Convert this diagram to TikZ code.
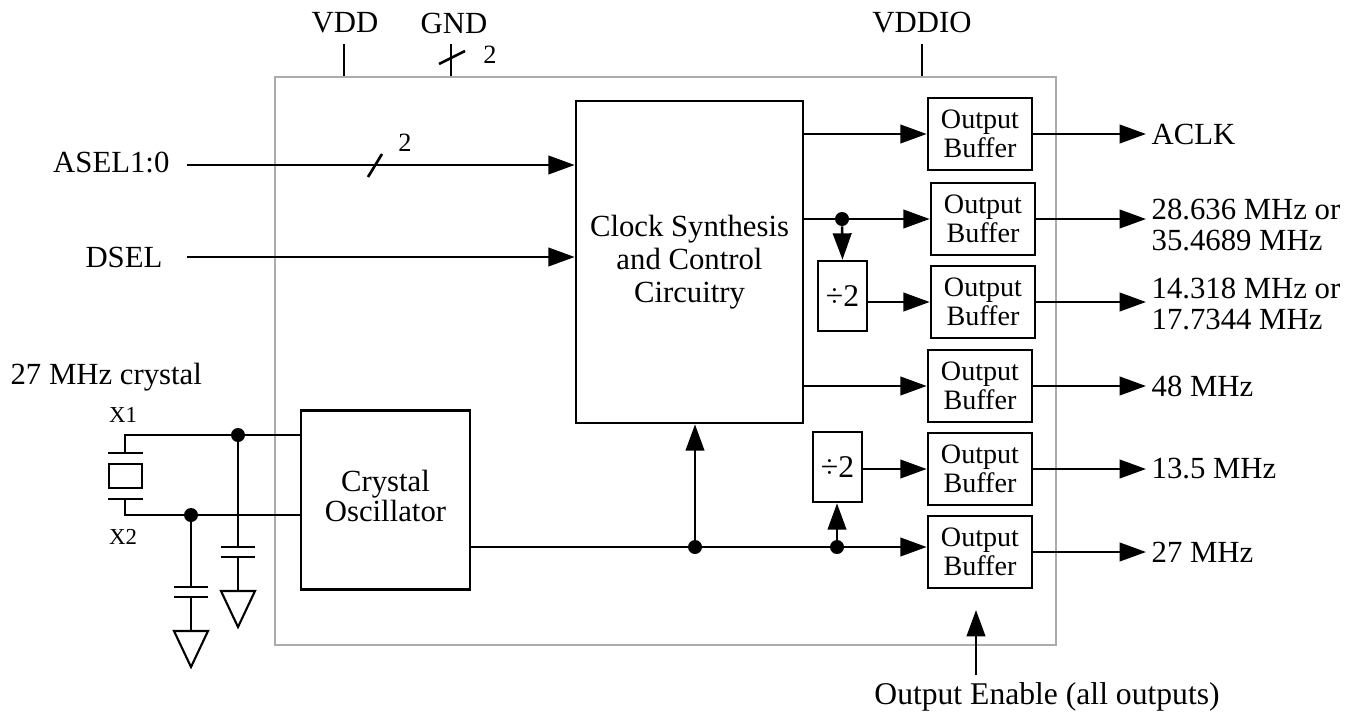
\documentclass[tikz,border=0pt]{standalone}
\usepackage{fontspec}
\setmainfont{Liberation Serif}
\usetikzlibrary{arrows.meta}

\begin{document}
\begin{tikzpicture}[x=0.02cm,y=-0.02cm,
  blk/.style={draw,line width=1.5pt,inner sep=0pt,align=center},
  buf/.style={blk,minimum width=2.08cm,minimum height=1.44cm,font=\fontsize{16}{16.5}\selectfont},
  half/.style={blk,minimum width=0.98cm,minimum height=1.4cm,font=\fontsize{18}{18}\selectfont},
  sig/.style={line width=1.5pt,-{Triangle[length=15pt,width=10.5pt]}},
  wire/.style={line width=1.5pt},
  dot/.style={circle,fill,inner sep=0pt,minimum size=0.28cm},
  lbl/.style={inner sep=3pt,align=left,font=\fontsize{17.5}{17.5}\selectfont}]
\useasboundingbox (0,0) rectangle (1369,717);
%\draw[step=50,gray,very thin] (0,0) grid (1369,717); %background grid

\node[draw=gray!65,line width=1.1pt,minimum width=15.62cm,minimum height=11.36cm,inner sep=0pt] (chip) at (665.5,361) {};

\node[blk,minimum width=4.54cm,minimum height=6.44cm,font=\fontsize{17.5}{18.7}\selectfont] (clk) at (689.5,262) {Clock Synthesis\\and Control\\Circuitry};
\node[blk,minimum width=3.38cm,minimum height=3.58cm,font=\fontsize{17.5}{17}\selectfont] (osc) at (385.5,500) {Crystal\\Oscillator\\[-12pt]};

\node[buf] (b1) at (980,134) {Output\\Buffer}; %1
\node[buf] (b2) at (983,219) {Output\\Buffer}; %2
\node[buf] (b3) at (983,302) {Output\\Buffer}; %3
\node[buf] (b4) at (980,386) {Output\\Buffer}; %4
\node[buf] (b5) at (980,469) {Output\\Buffer}; %5
\node[buf] (b6) at (980,552) {Output\\Buffer}; %6

\node[half] (d1) at (842.5,296) {÷2};
\node[half] (d2) at (837.5,467) {÷2};

\node[dot] (j3) at (842,219) {};
\node[dot] (j4) at (695,547) {};
\node[dot] (j5) at (837,547) {};

% inputs
\node[lbl,anchor=east] (asel) at (175,162) {ASEL1:0};
\node[lbl,anchor=east] (dsel) at (168,257) {DSEL};
\coordinate (ain) at (187,165);
\coordinate (din) at (187,257);
\draw[sig] (ain) -- (ain -| clk.west);
\draw[sig] (din) -- (din -| clk.west);
\draw[wire] (368,177) -- (382,154);
\node[font=\fontsize{15}{15}\selectfont] (bus1) at (405,143) {2};

% supplies
\node[lbl] (vdd) at (345,23) {VDD};
\node[lbl] (gnd) at (454,23) {GND};
\node[lbl] (vddio) at (922,23) {VDDIO};
\draw[wire] (chip.north -| 344,0) -- ++(0,-32);
\draw[wire] (chip.north -| 451,0) -- ++(0,-32);
\draw[wire] (chip.north -| 922,0) -- ++(0,-32);
\draw[wire] (439,64) -- (465,51);
\node[font=\fontsize{15}{15}\selectfont] (bus2) at (490,55) {2};

% clock paths
\draw[sig] (clk.east |- b1) -- (b1.west);
\draw[wire] (clk.east |- j3) -- (j3);
\draw[sig] (j3) -- (b2.west);
\draw[sig] (j3) -- (d1.north);
\draw[sig] (d1.east |- b3) -- (b3.west);
\draw[sig] (clk.east |- b4) -- (b4.west);
\draw[wire] (osc.east |- j4) -- (j4) -- (j5);
\draw[sig] (j5) -- (b6.west |- j5);
\draw[sig] (j4) -- (j4 |- clk.south);
\draw[sig] (j5) -- (j5 |- d2.south);
\draw[sig] (d2.east |- b5) -- (b5.west);

% outputs
\node[lbl,anchor=west] (o1) at (1146,134) {ACLK};
\node[lbl,anchor=west] (o2) at (1146,225) {28.636 MHz or\\35.4689 MHz};
\node[lbl,anchor=west] (o3) at (1146,304) {14.318 MHz or\\17.7344 MHz};
\node[lbl,anchor=west] (o4) at (1146,386) {48 MHz};
\node[lbl,anchor=west] (o5) at (1146,469) {13.5 MHz};
\node[lbl,anchor=west] (o6) at (1146,552) {27 MHz};
\draw[sig] (b1.east) -- (b1.east -| o1.west);
\draw[sig] (b2.east) -- (b2.east -| o2.west);
\draw[sig] (b3.east) -- (b3.east -| o3.west);
\draw[sig] (b4.east) -- (b4.east -| o4.west);
\draw[sig] (b5.east) -- (b5.east -| o5.west);
\draw[sig] (b6.east) -- (b6.east -| o6.west);

\node[lbl,font=\fontsize{18}{18}\selectfont] (oe) at (1047,697) {Output Enable (all outputs)};
\coordinate (oetip) at (976,610);
\draw[sig] (976,675) -- (oetip);

% crystal
\node[lbl,anchor=west] (xtal) at (5,377) {27 MHz crystal};
\node[font=\fontsize{13}{13}\selectfont] (x1) at (123,415) {X1};
\node[font=\fontsize{13}{13}\selectfont] (x2) at (123,537) {X2};
\node[dot] (j1) at (238,435) {};
\node[dot] (j2) at (191,515) {};
\draw[wire] (125,453) -- (125,435) -- (osc.west |- j1);
\draw[wire] (125,499) -- (125,515) -- (osc.west |- j2);
\draw[wire] (108,453) -- (143,453);
\draw[wire] (109,464) rectangle (142,488);
\draw[wire] (108,499) -- (143,499);
\draw[wire] (j1) -- (238,547);
\draw[wire] (j2) -- (191,587);
\foreach \x/\y in {238/547,191/587}{
  \draw[wire] (\x-17,\y) -- (\x+17,\y) (\x-17,\y+10) -- (\x+17,\y+10);
  \draw[wire] (\x,\y+10) -- (\x,\y+44);
  \draw[line width=1.2pt] (\x-17,\y+44) -- (\x+17,\y+44) -- (\x,\y+80) -- cycle;
}
\end{tikzpicture}
\end{document}
